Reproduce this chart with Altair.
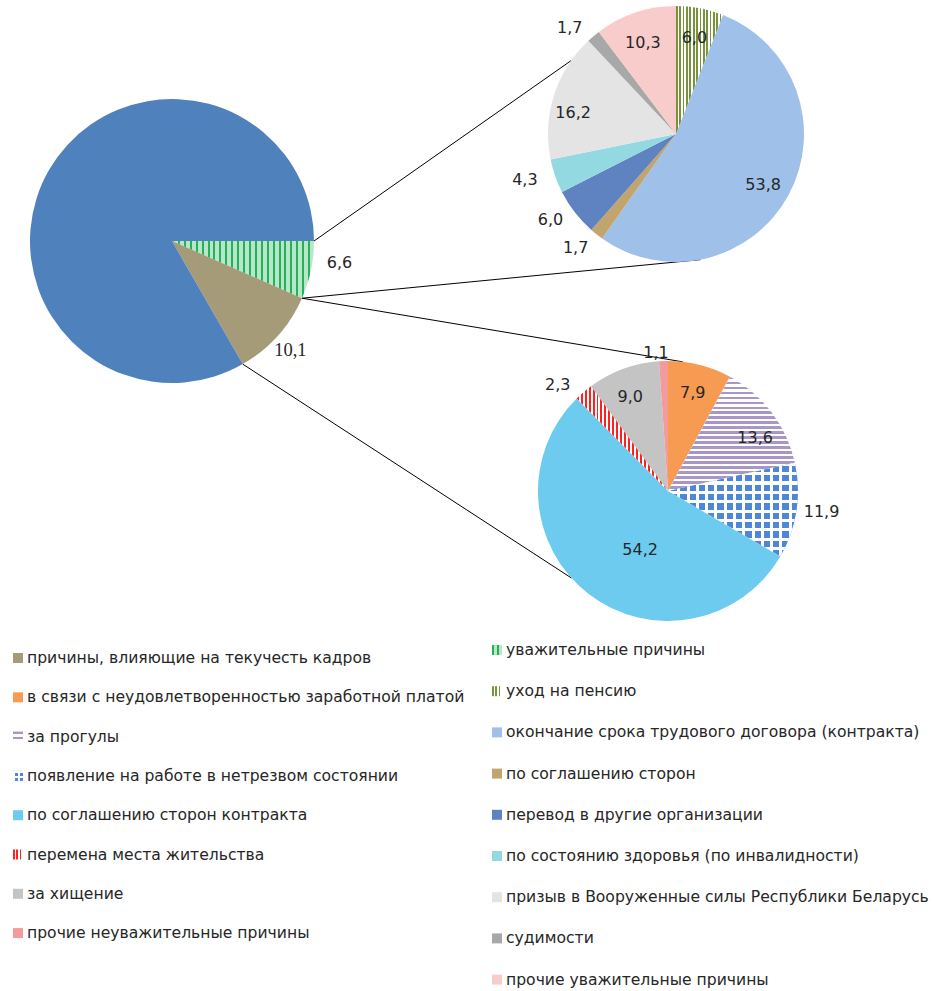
import math
import altair as alt
import pandas as pd

W, H = 935, 991

# ---- data -------------------------------------------------------------
# main pie (clockwise from 3 o'clock)
main_cats = ["уважительные причины", "причины, влияющие на текучесть кадров", "остальные"]
main_vals = [6.6, 10.1, 83.3]
main_show = [True, True, False]

# pie of "уважительные причины" (clockwise from 12 o'clock)
good_cats = [
    "уход на пенсию",
    "окончание срока трудового договора (контракта)",
    "по соглашению сторон",
    "перевод в другие организации",
    "по состоянию здоровья (по инвалидности)",
    "призыв в Вооруженные силы Республики Беларусь",
    "судимости",
    "прочие уважительные причины",
]
good_vals = [6.0, 53.8, 1.7, 6.0, 4.3, 16.2, 1.7, 10.3]

# pie of "причины, влияющие на текучесть кадров" (clockwise from 12 o'clock)
turn_cats = [
    "в связи с неудовлетворенностью заработной платой",
    "за прогулы",
    "появление на работе в нетрезвом состоянии",
    "по соглашению сторон контракта",
    "перемена места жительства",
    "за хищение",
    "прочие неуважительные причины",
]
turn_vals = [7.9, 13.6, 11.9, 54.2, 2.3, 9.0, 1.1]

# ---- styling ----------------------------------------------------------
colors = {
    "остальные": "#4F81BD",
    "уважительные причины": "#b9e6c8",
    "причины, влияющие на текучесть кадров": "#a69b78",
    "уход на пенсию": "#ffffff",
    "окончание срока трудового договора (контракта)": "#9fc0e8",
    "по соглашению сторон": "#c2a46e",
    "перевод в другие организации": "#5f82c0",
    "по состоянию здоровья (по инвалидности)": "#92d9e2",
    "призыв в Вооруженные силы Республики Беларусь": "#e4e4e4",
    "судимости": "#a8a8a8",
    "прочие уважительные причины": "#f9cccc",
    "в связи с неудовлетворенностью заработной платой": "#f79a52",
    "за прогулы": "#ffffff",
    "появление на работе в нетрезвом состоянии": "#4f86d6",
    "по соглашению сторон контракта": "#6ccbee",
    "перемена места жительства": "#ffffff",
    "за хищение": "#c4c4c4",
    "прочие неуважительные причины": "#f39a9a",
}
color_scale = alt.Scale(domain=list(colors.keys()), range=list(colors.values()))

CLEAR = "rgba(255,255,255,0)"


def stripes(col, n, frac, direction):
    """Hard-edged repeating linear gradient: n stripes of `col` over a clear ground."""
    stops = []
    for k in range(n):
        a, b, c = k / n, (k + frac) / n, (k + 1) / n
        stops += [
            alt.GradientStop(color=col, offset=a),
            alt.GradientStop(color=col, offset=b),
            alt.GradientStop(color=CLEAR, offset=b),
            alt.GradientStop(color=CLEAR, offset=c),
        ]
    x2, y2 = (1, 0) if direction == "h" else (0, 1)
    return alt.LinearGradient(gradient="linear", stops=stops, x1=0, y1=0, x2=x2, y2=y2)


# hatch overlays drawn on top of the flat fill: slice fills, then legend swatches
patterns = {
    "уважительные причины": ([stripes("#22b35a", 24, 0.35, "h")], [stripes("#22b35a", 2, 0.4, "h")]),
    "уход на пенсию": ([stripes("#77933c", 14, 0.5, "h")], [stripes("#77933c", 3, 0.5, "h")]),
    "за прогулы": ([stripes("#a897c6", 23, 0.55, "v")], [stripes("#a897c6", 2, 0.55, "v")]),
    "перемена места жительства": ([stripes("#ff2020", 23, 0.5, "h")], [stripes("#ff2020", 3, 0.5, "h")]),
    "появление на работе в нетрезвом состоянии": (
        [stripes("#ffffff", 14, 0.33, "h"), stripes("#ffffff", 10, 0.33, "v")],
        [stripes("#ffffff", 2, 0.33, "h"), stripes("#ffffff", 2, 0.33, "v")],
    ),
}

xs = alt.Scale(domain=[0, W], range=[0, W])
ys = alt.Scale(domain=[0, H], range=[0, H])

# pie geometry: centre, radius, start angle (radians, clockwise from 12)
PIES = {
    "main": dict(cx=172, cy=241, r=142, start=math.pi / 2),
    "good": dict(cx=676, cy=134, r=128, start=0.0),
    "turn": dict(cx=668, cy=491, r=130, start=0.0),
}

# value-label placement: radial distance (px) and angular nudge (deg) off the slice middle
main_lr = [169, 161, 0]
main_nudge = [-4.4, 0.7, 0]
good_lr = [98, 101, 152, 152, 158, 105, 150, 97]
good_nudge = [0, 2, 3, 3.5, 2.3, -6, -5, -1.4]
turn_lr = [101, 102, 155, 65, 153, 101, 139]
turn_nudge = [0, 5.7, -1, -12.4, -5.6, -1.8, -3]
# label typeface per slice (main pie mixes a serif label in)
main_font = ["DejaVu Sans", "Liberation Serif", "DejaVu Sans"]
main_size = [16, 18.5, 16]


def fmt(v):
    return f"{v:.1f}".replace(".", ",")


def pie_layer(key, cats, vals, lrs, nudges, fonts=None, sizes=None, show=None):
    g = PIES[key]
    n = len(cats)
    df = pd.DataFrame({
        "cat": cats,
        "value": vals,
        "cx": g["cx"],
        "cy": g["cy"],
        "lr": lrs,
        "nudge": nudges,
        "font": fonts or ["DejaVu Sans"] * n,
        "size": sizes or [16] * n,
        "label": [fmt(v) if (show is None or show[k]) else "" for k, v in enumerate(vals)],
    })
    df["end"] = df["value"].cumsum()
    df["start"] = df["end"] - df["value"]
    df["mid"] = (df["start"] + df["end"]) / 2 + df["nudge"] / 3.6
    tscale = alt.Scale(domain=[0, 100], range=[g["start"], g["start"] + 2 * math.pi])
    base = alt.Chart(df).encode(
        x=alt.X("cx:Q", scale=xs, axis=None),
        y=alt.Y("cy:Q", scale=ys, axis=None),
    )
    layers = [
        base.mark_arc(radius=g["r"]).encode(
            theta=alt.Theta("start:Q", scale=tscale),
            theta2="end:Q",
            color=alt.Color("cat:N", scale=color_scale, legend=None),
        )
    ]
    for cat in cats:
        if cat in patterns:
            for grad in patterns[cat][0]:
                layers.append(
                    base.transform_filter(alt.datum.cat == cat)
                    .mark_arc(radius=g["r"], fill=grad)
                    .encode(theta=alt.Theta("start:Q", scale=tscale), theta2="end:Q")
                )
    for (font, size), _ in df.groupby(["font", "size"]):
        layers.append(
            base.transform_filter((alt.datum.font == font) & (alt.datum.size == size))
            .mark_text(font=font, fontSize=size, color="#262626")
            .encode(
                theta=alt.Theta("mid:Q", scale=tscale),
                radius=alt.Radius("lr:Q", scale=None),
                text="label:N",
            )
        )
    return alt.layer(*layers)


main_pie = pie_layer("main", main_cats, main_vals, main_lr, main_nudge, main_font, main_size, main_show)
good_pie = pie_layer("good", good_cats, good_vals, good_lr, good_nudge)
turn_pie = pie_layer("turn", turn_cats, turn_vals, turn_lr, turn_nudge)


# ---- connector lines between the main pie and the two detail pies ------
def on_circle(key, frac):
    g = PIES[key]
    a = g["start"] + 2 * math.pi * frac
    return g["cx"] + g["r"] * math.sin(a), g["cy"] - g["r"] * math.cos(a)


m_good_start = on_circle("main", 0.0)
m_split = on_circle("main", main_vals[0] / 100)
m_turn_end = on_circle("main", (main_vals[0] + main_vals[1]) / 100)

links = [
    (m_good_start, on_circle("good", 305 / 360)),
    (m_split, on_circle("good", 169 / 360)),
    (m_split, on_circle("turn", 6.5 / 360)),
    (m_turn_end, on_circle("turn", 228 / 360)),
]
link_df = pd.DataFrame(
    [{"x": a[0], "y": a[1], "x2": b[0], "y2": b[1]} for a, b in links]
)
connectors = alt.Chart(link_df).mark_rule(color="#000000", strokeWidth=1).encode(
    x=alt.X("x:Q", scale=xs, axis=None),
    y=alt.Y("y:Q", scale=ys, axis=None),
    x2="x2:Q",
    y2="y2:Q",
)

# ---- legend (two columns) --------------------------------------------
left_col = ["причины, влияющие на текучесть кадров"] + turn_cats
right_col = ["уважительные причины"] + good_cats
rows = []
for k, c in enumerate(left_col):
    rows.append({"cat": c, "sx": 18, "y": 658 + 39.3 * k})
for k, c in enumerate(right_col):
    rows.append({"cat": c, "sx": 497, "y": 650 + 41.2 * k})
leg_df = pd.DataFrame(rows)
leg_df["tx"] = leg_df["sx"] + 9
leg_df["x0"] = leg_df["sx"] - 5
leg_df["x1"] = leg_df["sx"] + 5
leg_df["y0"] = leg_df["y"] - 5
leg_df["y1"] = leg_df["y"] + 5

leg_base = alt.Chart(leg_df).encode(
    x=alt.X("x0:Q", scale=xs, axis=None),
    x2="x1:Q",
    y=alt.Y("y0:Q", scale=ys, axis=None),
    y2="y1:Q",
)
leg_layers = [
    leg_base.mark_rect().encode(color=alt.Color("cat:N", scale=color_scale, legend=None))
]
for cat, (_, swatch) in patterns.items():
    for grad in swatch:
        leg_layers.append(
            leg_base.transform_filter(alt.datum.cat == cat).mark_rect(fill=grad)
        )
leg_txt = alt.Chart(leg_df).mark_text(
    align="left", baseline="middle", font="DejaVu Sans", fontSize=15.6, color="#262626"
).encode(
    x=alt.X("tx:Q", scale=xs, axis=None),
    y=alt.Y("y:Q", scale=ys, axis=None),
    text="cat:N",
)

chart = (
    alt.layer(connectors, main_pie, good_pie, turn_pie, *leg_layers, leg_txt)
    .resolve_scale(theta="independent")
    .properties(width=W, height=H, padding=0, autosize=alt.AutoSizeParams(type="none"))
    .configure_view(stroke=None)
)

chart.save("out.html", embed_options={"renderer": "svg", "actions": False})
